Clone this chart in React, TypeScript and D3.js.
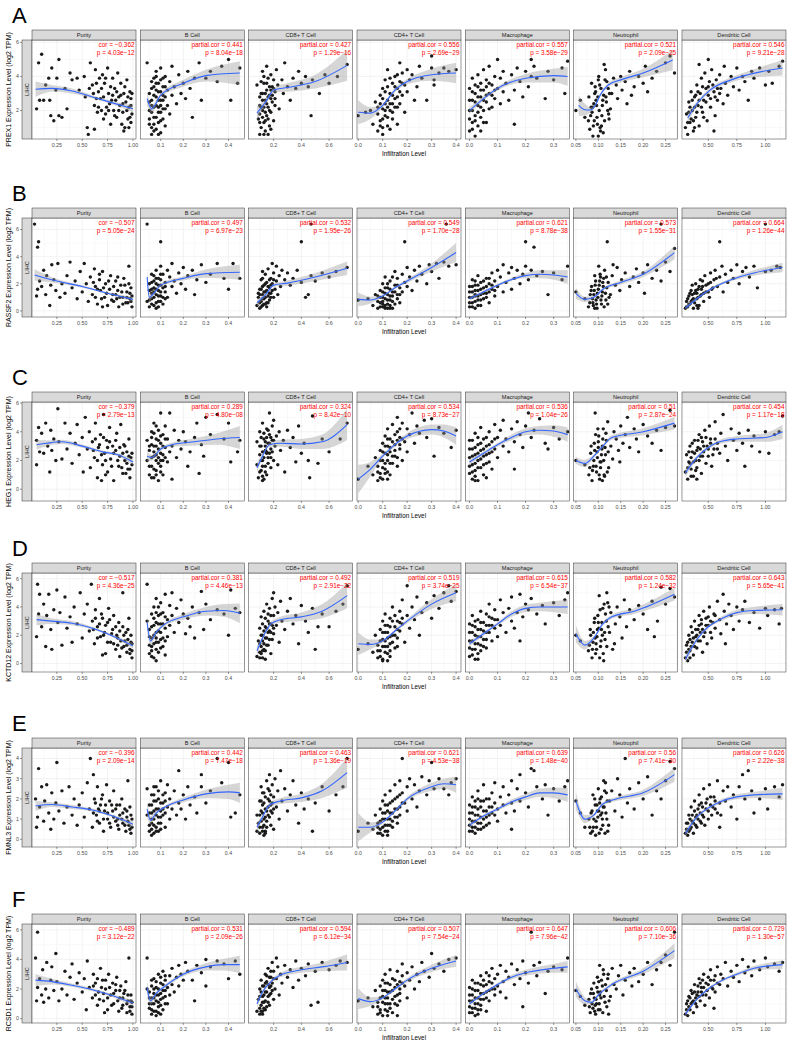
import * as d3 from 'd3';

// facet columns (x = infiltration level of each cell type)
const cells = ['Purity', 'B Cell', 'CD8+ T Cell', 'CD4+ T Cell', 'Macrophage', 'Neutrophil', 'Dendritic Cell'];
const xDomains = [[0.005, 1.03], [0.01, 0.47], [0.02, 0.77], [-0.005, 0.42], [-0.015, 0.356], [0.045, 0.277], [0.27, 1.18]];
const xTicks = [[0.25, 0.5, 0.75, 1], [0.1, 0.2, 0.3, 0.4], [0.2, 0.4, 0.6], [0, 0.1, 0.2, 0.3, 0.4], [0, 0.1, 0.2, 0.3], [0.05, 0.1, 0.15, 0.2, 0.25], [0.5, 0.75, 1]];
const xDigits = [2, 1, 1, 1, 1, 2, 2];

// facet rows (y = gene expression)
const letters = ['A', 'B', 'C', 'D', 'E', 'F'];
const genes = ['PREX1', 'RASSF2', 'HEG1', 'KCTD12', 'FMNL3', 'RCSD1'];
const yDomains = [[0.33, 6.14], [-0.45, 6.85], [-0.82, 6.07], [-0.6, 6.4], [-0.38, 4.52], [-0.3, 6.4]];
const yTicks = [[2, 4, 6], [0, 2, 4, 6], [0, 2, 4, 6], [0, 2, 4, 6], [0, 1, 2, 3, 4], [0, 2, 4, 6]];
const rowTops = [30, 208, 392, 563, 738, 914];

const corPREX1 = ['-0.362', '0.441', '0.427', '0.556', '0.557', '0.521', '0.546'];
const pPREX1 = ['4.03e-12', '8.04e-18', '1.29e-16', '2.69e-29', '3.58e-29', '2.09e-25', '9.21e-28'];
const corRASSF2 = ['-0.507', '0.497', '0.532', '0.549', '0.621', '0.573', '0.664'];
const pRASSF2 = ['5.05e-24', '6.97e-23', '1.95e-26', '1.70e-28', '8.78e-38', '1.55e-31', '1.26e-44'];
const corHEG1 = ['-0.379', '0.289', '0.324', '0.534', '0.536', '0.51', '0.454'];
const pHEG1 = ['2.79e-13', '4.80e-08', '8.42e-10', '8.73e-27', '1.04e-26', '2.87e-24', '1.17e-18'];
const corKCTD12 = ['-0.517', '0.381', '0.492', '0.519', '0.615', '0.582', '0.643'];
const pKCTD12 = ['4.36e-25', '4.46e-13', '2.91e-22', '3.74e-25', '6.54e-37', '1.24e-32', '5.65e-41'];
const corFMNL3 = ['-0.396', '0.442', '0.463', '0.621', '0.639', '0.56', '0.626'];
const pFMNL3 = ['2.09e-14', '7.47e-18', '1.36e-19', '4.53e-38', '1.48e-40', '7.41e-30', '2.22e-38'];
const corRCSD1 = ['-0.489', '0.531', '0.594', '0.507', '0.647', '0.606', '0.729'];
const pRCSD1 = ['3.12e-22', '2.09e-26', '6.12e-34', '7.54e-24', '7.96e-42', '7.10e-36', '1.30e-57'];

// scatter points, "x y" pairs per panel (spread of the cloud)
const ptsPREX1 = [
  '0.05 2.1, 0.07 4.8, 0.1 5.3, 0.08 2.6, 0.12 2.6, 0.14 3.5, 0.17 3.9, 0.18 2.6, 0.19 1.7, 0.2 4.5, 0.22 1.4, 0.24 3.2, 0.25 3.9, 0.27 5.0, 0.27 1.7, 0.3 1.6, 0.33 3.3, 0.35 2.1, 0.38 4.2, 0.4 3.8, 0.45 3.9, 0.47 3.2, 0.52 4.0, 0.53 2.8, 0.55 1.0, 0.56 0.6, 0.58 4.8, 0.6 3.5, 0.62 2.3, 0.63 4.4, 0.65 1.9, 0.66 3.1, 0.68 2.7, 0.7 4.1, 0.71 1.5, 0.72 3.6, 0.74 2.2, 0.75 4.5, 0.76 3.0, 0.78 1.2, 0.79 2.6, 0.8 3.9, 0.81 2.0, 0.82 3.3, 0.84 1.6, 0.85 4.2, 0.86 2.8, 0.87 2.3, 0.88 3.6, 0.9 1.9, 0.91 3.0, 0.92 1.0, 0.93 2.5, 0.94 3.8, 0.95 1.5, 0.96 2.2, 0.97 3.1, 0.98 1.3, 0.98 2.7, 0.99 1.8, 0.62 0.9, 0.69 2.0, 0.73 1.8, 0.77 2.4, 0.83 2.6, 0.89 1.2, 0.57 3.3, 0.64 2.7, 0.67 3.9',
  '0.04 4.8, 0.05 2.0, 0.05 1.2, 0.06 3.3, 0.06 0.6, 0.06 2.6, 0.07 3.9, 0.07 1.6, 0.07 2.9, 0.08 0.9, 0.08 2.3, 0.08 3.6, 0.08 4.3, 0.09 1.9, 0.09 3.1, 0.09 1.3, 0.1 2.6, 0.1 3.8, 0.1 0.7, 0.1 4.5, 0.11 2.1, 0.11 3.4, 0.11 1.5, 0.12 2.8, 0.12 4.0, 0.12 1.1, 0.13 3.2, 0.13 2.3, 0.14 3.7, 0.14 1.8, 0.15 2.9, 0.15 4.6, 0.16 3.4, 0.17 2.4, 0.18 4.1, 0.19 3.0, 0.2 3.6, 0.21 2.7, 0.22 4.3, 0.23 3.3, 0.24 1.6, 0.25 3.9, 0.27 4.8, 0.28 2.6, 0.3 3.9, 0.32 4.3, 0.35 3.7, 0.37 4.6, 0.4 5.0, 0.41 2.6, 0.44 3.6, 0.45 4.5, 0.06 1.0, 0.07 2.2, 0.09 2.6, 0.11 2.9, 0.05 3.0, 0.1 1.9',
  '0.08 3.5, 0.09 1.5, 0.1 0.6, 0.1 2.3, 0.11 3.0, 0.11 1.0, 0.12 4.3, 0.12 2.0, 0.13 1.3, 0.13 3.6, 0.14 2.6, 0.14 0.8, 0.15 4.6, 0.15 1.7, 0.15 3.2, 0.16 2.2, 0.16 3.9, 0.17 1.1, 0.17 2.9, 0.18 4.1, 0.18 1.9, 0.19 3.4, 0.19 2.5, 0.2 3.8, 0.2 1.4, 0.21 3.1, 0.21 2.7, 0.22 4.4, 0.23 3.5, 0.24 2.1, 0.26 3.8, 0.27 3.0, 0.28 4.8, 0.3 3.4, 0.32 2.6, 0.34 3.9, 0.36 3.3, 0.38 4.3, 0.4 3.6, 0.43 4.0, 0.45 3.4, 0.47 1.7, 0.48 3.8, 0.53 3.0, 0.57 4.1, 0.6 3.6, 0.66 4.0, 0.73 4.7, 0.12 3.0, 0.14 1.9, 0.16 0.6, 0.18 2.7, 0.1 1.8',
  '0.0 1.7, 0.03 1.9, 0.05 2.0, 0.06 1.2, 0.07 2.5, 0.08 0.8, 0.08 1.8, 0.09 2.9, 0.09 1.4, 0.1 3.3, 0.1 2.1, 0.1 0.6, 0.11 1.7, 0.11 3.8, 0.12 2.6, 0.12 1.1, 0.12 4.4, 0.13 3.0, 0.13 2.0, 0.14 3.6, 0.14 1.5, 0.15 4.0, 0.15 2.7, 0.16 3.3, 0.16 2.2, 0.17 4.8, 0.17 3.7, 0.18 2.9, 0.18 4.2, 0.19 3.5, 0.19 1.9, 0.2 4.4, 0.2 3.1, 0.21 3.8, 0.22 4.1, 0.23 2.6, 0.24 3.4, 0.25 4.6, 0.26 3.9, 0.28 2.6, 0.3 4.5, 0.3 5.2, 0.31 3.5, 0.31 3.8, 0.33 4.2, 0.35 4.5, 0.37 4.3, 0.4 4.4, 0.13 0.9, 0.16 1.2, 0.11 2.4, 0.14 2.4',
  '0.0 0.8, 0.0 2.0, 0.0 3.3, 0.01 1.3, 0.01 2.6, 0.01 3.9, 0.02 0.5, 0.02 1.7, 0.02 3.0, 0.03 2.3, 0.03 4.1, 0.03 1.1, 0.04 2.8, 0.04 3.6, 0.04 1.6, 0.05 2.0, 0.05 3.2, 0.05 4.4, 0.06 2.5, 0.06 3.8, 0.06 1.3, 0.07 3.0, 0.07 4.6, 0.08 2.2, 0.08 3.5, 0.09 4.0, 0.09 2.7, 0.1 3.3, 0.1 5.0, 0.11 2.4, 0.11 3.9, 0.12 3.1, 0.12 4.3, 0.13 3.6, 0.14 2.6, 0.15 4.1, 0.16 3.2, 0.16 1.2, 0.17 4.5, 0.18 3.7, 0.19 2.8, 0.2 4.3, 0.21 3.4, 0.22 4.0, 0.23 4.6, 0.24 3.9, 0.27 2.7, 0.28 4.3, 0.3 3.8, 0.33 4.5, 0.34 3.0, 0.35 4.9, 0.22 5.0',
  '0.05 2.0, 0.06 2.6, 0.07 1.6, 0.081 0.9, 0.084 2.2, 0.078 1.4, 0.092 3.0, 0.088 0.5, 0.086 1.9, 0.095 2.6, 0.098 1.2, 0.103 3.5, 0.096 2.3, 0.105 0.8, 0.101 4.0, 0.108 1.7, 0.112 2.9, 0.115 3.8, 0.107 1.1, 0.118 2.5, 0.122 3.3, 0.116 4.4, 0.124 1.5, 0.13 3.0, 0.127 2.1, 0.134 3.9, 0.14 3.5, 0.143 2.7, 0.15 4.0, 0.153 3.2, 0.16 3.7, 0.164 2.4, 0.17 4.3, 0.18 3.4, 0.19 4.0, 0.2 3.6, 0.205 4.6, 0.21 3.1, 0.22 3.9, 0.23 4.3, 0.25 4.8, 0.27 4.2, 0.26 5.2, 0.113 4.7, 0.091 1.4, 0.099 2.8, 0.121 2.0, 0.174 2.9',
  '0.3 1.0, 0.31 1.8, 0.32 0.6, 0.33 2.5, 0.34 1.3, 0.35 3.1, 0.36 2.0, 0.37 0.8, 0.38 2.8, 0.39 1.6, 0.4 3.5, 0.41 2.3, 0.42 1.1, 0.43 3.0, 0.44 3.9, 0.45 1.9, 0.46 2.6, 0.47 4.2, 0.48 3.3, 0.49 1.4, 0.5 2.9, 0.51 3.7, 0.52 2.2, 0.53 4.4, 0.55 3.1, 0.56 1.7, 0.57 3.8, 0.58 2.6, 0.6 4.1, 0.61 3.3, 0.63 2.4, 0.64 4.6, 0.65 3.6, 0.67 2.9, 0.7 4.0, 0.72 3.4, 0.75 4.5, 0.77 3.2, 0.8 4.0, 0.82 3.7, 0.85 2.6, 0.88 4.3, 0.9 3.9, 0.95 4.5, 1.0 3.5, 1.03 4.3, 1.06 3.6, 1.12 4.6, 1.15 4.9, 0.42 4.7, 0.5 5.0, 0.55 0.8',
];
const ptsRASSF2 = [
  '0.03 6.4, 0.07 5.1, 0.06 4.7, 0.05 1.1, 0.06 1.6, 0.08 2.2, 0.1 1.8, 0.12 3.0, 0.14 1.2, 0.15 2.6, 0.18 0.4, 0.19 1.9, 0.2 3.4, 0.22 2.3, 0.24 1.5, 0.26 3.5, 0.28 1.0, 0.3 2.0, 0.33 1.3, 0.35 2.6, 0.38 3.6, 0.4 1.7, 0.43 2.2, 0.45 0.9, 0.48 2.9, 0.5 1.4, 0.52 3.5, 0.54 2.0, 0.56 0.7, 0.58 2.5, 0.6 1.2, 0.62 3.1, 0.63 1.8, 0.65 0.5, 0.67 2.3, 0.68 1.5, 0.7 2.9, 0.72 1.0, 0.73 2.0, 0.75 0.4, 0.77 1.6, 0.78 2.6, 0.8 1.2, 0.81 0.7, 0.83 2.2, 0.85 1.5, 0.86 0.3, 0.88 1.9, 0.9 1.0, 0.91 2.4, 0.93 0.6, 0.94 1.4, 0.96 3.3, 0.97 0.9, 0.98 1.7, 0.99 0.3, 0.7 0.3, 0.84 0.9',
  '0.04 6.4, 0.1 5.1, 0.04 0.7, 0.05 1.5, 0.05 0.3, 0.06 2.1, 0.06 0.9, 0.07 1.7, 0.07 0.4, 0.07 2.6, 0.08 1.2, 0.08 2.0, 0.08 3.0, 0.09 0.7, 0.09 1.5, 0.09 2.4, 0.1 1.1, 0.1 3.3, 0.1 1.9, 0.11 0.5, 0.11 2.7, 0.12 1.4, 0.12 2.1, 0.13 3.0, 0.13 1.0, 0.14 2.5, 0.15 1.8, 0.15 3.5, 0.16 2.2, 0.17 1.3, 0.18 2.8, 0.19 2.0, 0.2 3.2, 0.21 1.6, 0.22 2.6, 0.24 3.0, 0.25 1.2, 0.26 2.3, 0.28 3.4, 0.3 2.1, 0.32 2.7, 0.35 3.5, 0.38 2.4, 0.4 1.6, 0.42 3.5, 0.45 2.4, 0.06 1.3, 0.08 0.2',
  '0.47 6.4, 0.4 5.1, 0.08 0.4, 0.09 1.0, 0.1 0.2, 0.1 1.6, 0.11 0.7, 0.11 2.3, 0.12 1.2, 0.12 0.4, 0.13 1.9, 0.13 0.9, 0.14 2.7, 0.14 1.4, 0.15 0.6, 0.15 2.1, 0.16 1.1, 0.16 3.1, 0.17 1.7, 0.17 0.8, 0.18 2.4, 0.18 1.3, 0.19 3.5, 0.19 2.0, 0.2 1.0, 0.2 2.8, 0.21 1.6, 0.22 3.3, 0.22 2.2, 0.23 1.2, 0.24 2.6, 0.25 1.8, 0.26 3.0, 0.28 2.3, 0.3 2.8, 0.32 1.9, 0.34 2.4, 0.37 3.0, 0.4 2.1, 0.43 1.0, 0.45 1.2, 0.47 2.6, 0.5 2.2, 0.55 2.8, 0.6 2.5, 0.65 2.9, 0.73 3.2, 0.12 2.9, 0.09 1.3',
  '0.36 6.4, 0.19 5.1, 0.0 0.8, 0.04 0.9, 0.06 0.4, 0.07 1.2, 0.08 0.2, 0.08 0.7, 0.09 1.5, 0.09 0.3, 0.1 1.0, 0.1 2.0, 0.1 0.5, 0.11 1.3, 0.11 0.2, 0.11 2.5, 0.12 0.8, 0.12 1.7, 0.13 1.1, 0.13 0.4, 0.13 2.2, 0.14 1.4, 0.14 0.7, 0.15 1.9, 0.15 2.9, 0.16 1.2, 0.16 2.4, 0.17 0.6, 0.17 1.7, 0.18 2.7, 0.18 1.4, 0.19 2.1, 0.2 3.2, 0.2 1.8, 0.21 2.5, 0.22 1.5, 0.23 3.0, 0.24 2.2, 0.25 3.3, 0.26 2.7, 0.28 2.0, 0.29 3.4, 0.3 2.9, 0.32 3.5, 0.33 2.4, 0.35 3.6, 0.37 3.3, 0.4 3.4, 0.12 0.2, 0.14 0.2',
  '0.2 5.1, 0.23 4.7, 0.0 0.3, 0.0 1.0, 0.0 1.8, 0.01 0.6, 0.01 1.4, 0.01 2.3, 0.02 0.2, 0.02 1.1, 0.02 1.9, 0.03 0.8, 0.03 1.5, 0.03 2.6, 0.04 0.4, 0.04 1.2, 0.04 2.1, 0.05 1.7, 0.05 0.9, 0.06 2.4, 0.06 1.3, 0.07 2.0, 0.07 0.6, 0.08 1.6, 0.08 2.8, 0.09 1.1, 0.09 2.2, 0.1 1.8, 0.1 3.0, 0.11 2.5, 0.12 1.4, 0.12 3.4, 0.13 2.1, 0.14 2.8, 0.15 1.6, 0.15 3.2, 0.16 2.4, 0.17 3.0, 0.18 2.0, 0.19 2.7, 0.2 3.3, 0.21 2.3, 0.22 3.0, 0.24 2.6, 0.26 2.9, 0.28 1.2, 0.3 2.8, 0.33 2.3, 0.35 3.3',
  '0.24 6.4, 0.12 5.1, 0.05 1.4, 0.07 0.9, 0.078 0.3, 0.082 1.2, 0.085 1.8, 0.088 0.6, 0.091 1.5, 0.094 2.2, 0.097 0.2, 0.099 1.0, 0.102 1.9, 0.104 2.7, 0.107 0.5, 0.109 1.4, 0.112 2.4, 0.114 3.0, 0.117 0.8, 0.119 1.7, 0.122 2.1, 0.127 1.2, 0.131 2.6, 0.138 1.9, 0.142 3.2, 0.148 1.5, 0.152 2.3, 0.16 2.8, 0.17 1.8, 0.178 2.5, 0.185 3.1, 0.19 2.1, 0.2 2.8, 0.203 1.3, 0.21 3.4, 0.22 2.4, 0.23 3.0, 0.24 2.2, 0.25 3.6, 0.26 2.9, 0.27 4.6, 0.133 3.4, 0.101 3.3, 0.092 0.2',
  '1.0 6.4, 0.6 5.1, 0.3 0.2, 0.31 0.7, 0.32 0.3, 0.33 1.1, 0.34 0.5, 0.35 1.5, 0.36 0.8, 0.37 0.2, 0.38 1.3, 0.39 2.0, 0.4 0.9, 0.41 1.6, 0.42 0.4, 0.43 2.3, 0.44 1.2, 0.45 1.8, 0.46 0.7, 0.47 2.6, 0.48 1.4, 0.5 2.0, 0.51 1.0, 0.52 2.8, 0.53 1.6, 0.55 2.3, 0.56 3.0, 0.58 1.8, 0.6 2.5, 0.62 3.3, 0.63 1.4, 0.65 2.7, 0.67 2.1, 0.7 3.0, 0.72 2.4, 0.75 3.4, 0.77 2.0, 0.8 2.9, 0.83 3.2, 0.86 2.5, 0.9 3.3, 0.93 1.7, 1.0 2.9, 1.05 3.0, 1.1 3.3, 1.13 3.2, 0.36 1.9, 0.41 0.2',
];
const ptsHEG1 = [
  '0.05 1.7, 0.05 3.4, 0.07 4.3, 0.08 2.6, 0.1 3.9, 0.12 2.5, 0.14 4.6, 0.16 3.0, 0.18 1.2, 0.19 4.1, 0.2 2.7, 0.22 3.5, 0.24 2.0, 0.26 5.6, 0.27 3.3, 0.3 2.1, 0.33 4.6, 0.35 2.8, 0.38 3.9, 0.4 1.8, 0.43 3.2, 0.45 4.5, 0.47 2.4, 0.5 3.6, 0.51 1.2, 0.53 5.0, 0.55 2.8, 0.57 4.0, 0.58 1.5, 0.6 3.3, 0.62 2.2, 0.63 4.6, 0.65 0.8, 0.66 2.9, 0.68 3.8, 0.7 1.7, 0.71 5.2, 0.72 2.5, 0.74 3.4, 0.75 1.2, 0.77 4.3, 0.78 2.1, 0.8 3.0, 0.81 0.6, 0.83 2.7, 0.84 3.9, 0.86 1.6, 0.87 2.3, 0.88 4.5, 0.9 1.1, 0.91 3.1, 0.92 2.0, 0.94 2.6, 0.95 1.4, 0.96 3.5, 0.97 0.8, 0.98 2.2, 0.99 1.7, 0.69 0.6, 0.73 1.0',
  '0.04 3.4, 0.04 2.0, 0.05 1.0, 0.05 2.7, 0.06 4.0, 0.06 1.6, 0.06 3.1, 0.07 0.8, 0.07 2.3, 0.07 4.6, 0.08 1.3, 0.08 3.5, 0.08 2.0, 0.09 0.6, 0.09 2.8, 0.09 4.1, 0.1 1.6, 0.1 3.2, 0.1 5.3, 0.11 2.4, 0.11 3.8, 0.11 1.0, 0.12 2.9, 0.12 4.4, 0.13 1.9, 0.13 3.5, 0.14 2.6, 0.14 5.3, 0.15 3.0, 0.15 0.7, 0.16 4.1, 0.17 2.2, 0.18 3.4, 0.19 2.8, 0.2 4.0, 0.21 3.3, 0.22 1.6, 0.23 2.6, 0.25 3.6, 0.26 4.6, 0.27 1.1, 0.28 3.1, 0.29 2.3, 0.3 5.0, 0.32 3.8, 0.35 5.2, 0.38 3.5, 0.4 4.6, 0.41 1.9, 0.44 2.6, 0.45 3.4, 0.1 2.0, 0.07 3.0',
  '0.08 1.7, 0.08 3.3, 0.09 0.8, 0.1 2.4, 0.1 4.0, 0.11 1.3, 0.11 3.0, 0.12 2.0, 0.12 4.6, 0.13 0.7, 0.13 3.5, 0.14 1.6, 0.14 2.7, 0.15 4.2, 0.15 1.0, 0.16 3.2, 0.16 2.2, 0.17 5.3, 0.17 3.8, 0.18 1.5, 0.18 2.8, 0.19 4.4, 0.19 3.4, 0.2 2.0, 0.2 4.8, 0.21 3.0, 0.22 3.7, 0.23 1.7, 0.24 4.0, 0.25 2.7, 0.27 3.4, 0.28 1.2, 0.3 4.1, 0.32 2.9, 0.34 3.6, 0.36 1.9, 0.38 4.4, 0.4 2.5, 0.42 3.2, 0.45 2.0, 0.46 0.8, 0.48 5.1, 0.52 1.8, 0.55 3.5, 0.6 2.6, 0.68 3.5, 0.73 4.6, 0.12 0.6, 0.15 2.5',
  '0.0 0.7, 0.04 1.6, 0.06 1.0, 0.07 2.2, 0.08 0.6, 0.08 1.6, 0.09 2.7, 0.09 1.1, 0.1 3.2, 0.1 2.0, 0.1 0.7, 0.11 2.5, 0.11 3.7, 0.11 1.4, 0.12 3.0, 0.12 2.0, 0.12 4.2, 0.13 1.0, 0.13 2.6, 0.13 3.5, 0.14 4.5, 0.14 1.8, 0.15 3.1, 0.15 2.3, 0.16 4.0, 0.16 5.0, 0.17 2.8, 0.17 3.6, 0.18 4.6, 0.18 2.0, 0.19 3.3, 0.2 4.2, 0.2 2.6, 0.21 3.8, 0.22 5.3, 0.23 3.2, 0.24 4.4, 0.25 3.9, 0.27 4.8, 0.28 3.6, 0.3 4.9, 0.31 2.3, 0.33 4.3, 0.35 3.9, 0.38 2.9, 0.4 4.1, 0.12 0.7, 0.16 1.6',
  '0.0 1.1, 0.0 2.2, 0.0 3.4, 0.01 0.7, 0.01 1.7, 0.01 2.8, 0.02 1.3, 0.02 2.4, 0.02 3.9, 0.03 0.6, 0.03 2.0, 0.03 3.1, 0.04 1.5, 0.04 2.7, 0.04 4.3, 0.05 1.0, 0.05 2.3, 0.05 3.5, 0.06 1.8, 0.06 3.0, 0.07 2.5, 0.07 4.0, 0.08 1.4, 0.08 3.3, 0.09 2.8, 0.09 4.5, 0.1 3.6, 0.1 2.2, 0.11 4.1, 0.12 3.0, 0.12 4.8, 0.13 3.5, 0.14 2.6, 0.15 4.2, 0.16 3.3, 0.17 4.7, 0.18 3.8, 0.19 2.9, 0.2 4.4, 0.21 5.3, 0.22 3.6, 0.23 4.1, 0.25 4.9, 0.27 3.2, 0.28 2.8, 0.3 4.3, 0.32 3.5, 0.35 4.0, 0.16 1.4, 0.06 0.8',
  '0.05 2.0, 0.07 1.7, 0.079 1.0, 0.083 2.5, 0.086 0.6, 0.089 1.6, 0.091 3.2, 0.093 5.3, 0.096 1.2, 0.098 2.2, 0.101 3.7, 0.103 0.7, 0.106 1.9, 0.108 2.8, 0.111 4.2, 0.113 1.0, 0.116 2.4, 0.118 3.4, 0.121 4.7, 0.123 1.5, 0.128 3.0, 0.132 2.1, 0.135 4.0, 0.14 3.5, 0.145 2.7, 0.15 4.4, 0.155 3.2, 0.16 3.8, 0.165 5.0, 0.17 2.9, 0.18 4.2, 0.185 3.5, 0.19 2.6, 0.2 4.5, 0.21 3.7, 0.22 3.2, 0.23 4.1, 0.24 2.7, 0.25 4.3, 0.26 5.5, 0.27 4.4, 0.148 1.9, 0.1 2.9, 0.109 0.6',
  '0.3 1.2, 0.31 2.4, 0.32 0.7, 0.33 1.9, 0.34 3.0, 0.35 1.4, 0.36 2.6, 0.37 0.9, 0.38 3.4, 0.39 2.0, 0.4 1.5, 0.41 2.9, 0.42 3.8, 0.43 2.3, 0.44 1.1, 0.45 3.3, 0.46 2.6, 0.47 4.1, 0.48 1.8, 0.49 3.0, 0.5 2.3, 0.51 4.4, 0.52 3.5, 0.53 1.6, 0.55 2.8, 0.56 4.7, 0.58 3.2, 0.6 2.5, 0.61 3.9, 0.63 5.2, 0.65 3.0, 0.67 2.0, 0.7 4.2, 0.72 3.4, 0.75 2.7, 0.77 3.9, 0.8 3.2, 0.82 1.6, 0.85 4.1, 0.88 3.0, 0.9 3.7, 0.95 2.6, 1.0 4.0, 1.03 2.5, 1.08 3.8, 1.12 4.0, 1.15 5.1, 0.4 0.7',
];
const ptsKCTD12 = [
  '0.05 1.9, 0.06 5.6, 0.07 3.5, 0.08 4.9, 0.1 2.6, 0.12 4.2, 0.14 1.2, 0.15 3.4, 0.17 4.9, 0.19 2.4, 0.2 1.0, 0.22 3.8, 0.25 5.2, 0.26 2.9, 0.28 3.6, 0.3 1.3, 0.33 4.7, 0.35 2.5, 0.38 3.3, 0.4 1.5, 0.42 4.0, 0.45 2.8, 0.48 5.0, 0.5 1.8, 0.52 3.5, 0.55 4.2, 0.57 2.3, 0.59 5.6, 0.6 3.0, 0.62 1.4, 0.63 3.8, 0.65 2.6, 0.67 4.6, 0.68 1.9, 0.7 3.2, 0.72 2.2, 0.73 0.7, 0.75 2.9, 0.76 3.9, 0.78 1.5, 0.8 2.4, 0.81 3.4, 0.83 1.0, 0.84 2.0, 0.86 2.9, 0.87 0.5, 0.88 1.6, 0.9 2.6, 0.9 5.0, 0.91 1.2, 0.93 2.2, 0.94 0.8, 0.95 1.7, 0.96 3.2, 0.97 1.0, 0.98 2.0, 0.99 0.4, 0.99 1.4, 0.7 0.6, 0.85 1.3',
  '0.04 5.6, 0.04 3.0, 0.05 1.9, 0.05 0.7, 0.06 2.6, 0.06 1.2, 0.06 3.5, 0.07 0.4, 0.07 2.0, 0.07 4.0, 0.08 1.5, 0.08 2.9, 0.08 4.6, 0.09 0.8, 0.09 2.3, 0.09 3.4, 0.1 1.7, 0.1 2.8, 0.1 4.3, 0.11 1.2, 0.11 3.6, 0.12 2.5, 0.12 0.6, 0.12 4.9, 0.13 3.1, 0.13 1.9, 0.14 2.7, 0.14 4.1, 0.15 3.4, 0.15 5.0, 0.16 2.2, 0.17 3.9, 0.18 2.9, 0.19 4.5, 0.2 3.5, 0.21 2.1, 0.22 3.2, 0.23 2.6, 0.24 4.0, 0.25 1.8, 0.27 3.6, 0.28 5.1, 0.29 2.4, 0.3 4.2, 0.32 3.1, 0.35 3.8, 0.38 3.5, 0.4 2.0, 0.41 5.2, 0.43 3.9, 0.45 3.6, 0.08 0.2',
  '0.08 0.5, 0.09 1.6, 0.1 0.8, 0.1 2.5, 0.11 1.2, 0.11 3.3, 0.12 0.4, 0.12 2.0, 0.13 1.4, 0.13 3.7, 0.14 2.6, 0.14 0.9, 0.15 1.8, 0.15 4.2, 0.16 3.0, 0.16 1.3, 0.17 2.3, 0.17 3.9, 0.18 0.7, 0.18 2.8, 0.19 1.7, 0.19 4.6, 0.2 3.4, 0.2 2.1, 0.21 4.0, 0.22 2.7, 0.23 3.6, 0.24 1.5, 0.25 4.4, 0.26 3.0, 0.28 2.4, 0.3 3.7, 0.32 4.6, 0.34 2.8, 0.36 3.4, 0.38 1.4, 0.4 4.1, 0.43 3.0, 0.45 2.2, 0.48 3.9, 0.5 1.0, 0.52 2.6, 0.55 3.5, 0.6 2.6, 0.65 3.7, 0.73 5.5, 0.7 4.2, 0.2 5.0',
  '0.0 1.0, 0.04 1.4, 0.06 0.8, 0.07 2.0, 0.08 0.4, 0.08 1.3, 0.09 2.4, 0.09 0.9, 0.1 1.7, 0.1 3.0, 0.1 0.3, 0.11 1.2, 0.11 2.2, 0.11 3.5, 0.12 0.7, 0.12 1.8, 0.12 2.7, 0.13 1.4, 0.13 3.2, 0.13 0.5, 0.14 2.0, 0.14 4.0, 0.15 2.6, 0.15 1.1, 0.16 3.0, 0.16 1.8, 0.17 3.7, 0.17 2.3, 0.18 4.5, 0.18 2.8, 0.19 1.5, 0.2 3.4, 0.2 5.5, 0.21 2.5, 0.22 4.0, 0.23 3.1, 0.24 4.7, 0.25 2.0, 0.26 3.6, 0.28 4.3, 0.3 3.2, 0.31 4.8, 0.33 3.9, 0.35 5.0, 0.37 5.5, 0.38 4.4, 0.4 5.1, 0.12 0.2',
  '0.0 0.5, 0.0 1.6, 0.0 2.8, 0.01 1.0, 0.01 2.2, 0.01 3.4, 0.02 0.3, 0.02 1.4, 0.02 2.6, 0.03 1.9, 0.03 3.1, 0.03 0.7, 0.04 1.3, 0.04 2.4, 0.04 3.7, 0.05 1.7, 0.05 2.9, 0.06 1.1, 0.06 2.2, 0.06 3.5, 0.07 2.7, 0.07 4.2, 0.08 1.6, 0.08 3.2, 0.09 2.5, 0.09 3.8, 0.1 1.9, 0.1 3.1, 0.11 4.5, 0.11 2.7, 0.12 3.6, 0.13 2.2, 0.14 3.9, 0.15 3.0, 0.15 4.7, 0.16 2.5, 0.17 3.6, 0.18 4.9, 0.19 3.3, 0.2 4.2, 0.21 3.8, 0.22 4.6, 0.24 3.5, 0.26 4.1, 0.27 2.8, 0.3 4.3, 0.32 3.4, 0.34 4.5, 0.35 5.0, 0.18 1.6',
  '0.05 2.0, 0.06 1.6, 0.078 0.9, 0.082 2.4, 0.086 0.4, 0.088 1.5, 0.091 2.9, 0.094 0.7, 0.097 1.9, 0.099 3.4, 0.102 4.8, 0.105 1.2, 0.107 2.4, 0.11 3.9, 0.112 0.2, 0.115 1.7, 0.118 3.0, 0.121 4.3, 0.125 2.2, 0.128 3.6, 0.132 1.0, 0.138 2.8, 0.142 4.0, 0.148 3.3, 0.153 1.8, 0.158 4.5, 0.163 2.6, 0.17 3.8, 0.18 3.1, 0.19 4.1, 0.2 3.5, 0.21 2.4, 0.22 4.4, 0.225 1.9, 0.232 3.0, 0.24 5.4, 0.25 4.2, 0.26 5.3, 0.27 4.7, 0.119 5.0, 0.101 2.5, 0.136 1.4',
  '0.3 0.4, 0.31 1.3, 0.32 0.2, 0.33 2.0, 0.34 0.9, 0.35 2.6, 0.36 1.5, 0.37 0.6, 0.38 3.0, 0.39 1.9, 0.4 1.1, 0.41 2.4, 0.42 3.4, 0.43 1.6, 0.44 2.8, 0.45 0.8, 0.46 3.7, 0.47 2.2, 0.48 3.2, 0.49 1.4, 0.5 2.7, 0.51 4.0, 0.52 3.0, 0.53 1.8, 0.55 3.5, 0.56 2.5, 0.58 4.4, 0.6 3.1, 0.61 2.1, 0.63 4.9, 0.64 3.7, 0.66 2.8, 0.68 4.2, 0.7 3.4, 0.72 2.4, 0.75 4.0, 0.77 3.0, 0.8 3.8, 0.82 4.4, 0.86 2.9, 0.9 3.6, 0.95 2.5, 1.0 3.9, 1.02 3.4, 1.08 3.8, 1.12 2.8, 1.14 3.9, 0.65 1.4',
];
const ptsFMNL3 = [
  '0.04 2.0, 0.05 0.6, 0.06 1.1, 0.07 3.5, 0.08 1.6, 0.1 2.6, 0.12 0.9, 0.13 1.9, 0.15 2.7, 0.17 1.3, 0.19 0.5, 0.2 2.3, 0.22 1.0, 0.24 1.8, 0.25 3.8, 0.27 1.4, 0.3 2.4, 0.32 0.8, 0.35 1.6, 0.37 2.6, 0.4 1.2, 0.42 2.0, 0.45 0.7, 0.47 1.7, 0.5 2.3, 0.52 1.1, 0.55 2.8, 0.57 1.5, 0.58 4.0, 0.6 0.6, 0.61 3.2, 0.62 2.0, 0.64 1.2, 0.65 2.6, 0.67 0.8, 0.68 1.7, 0.7 2.2, 0.71 0.4, 0.72 1.4, 0.74 2.7, 0.75 1.0, 0.77 1.9, 0.78 0.6, 0.8 1.4, 0.81 2.4, 0.83 0.9, 0.84 1.7, 0.86 0.5, 0.87 1.2, 0.89 2.0, 0.9 0.8, 0.92 1.5, 0.93 0.4, 0.94 1.1, 0.95 2.9, 0.96 0.7, 0.97 1.6, 0.98 0.3, 0.99 1.0, 0.66 1.5, 0.85 1.0',
  '0.04 2.5, 0.04 1.2, 0.05 0.4, 0.05 1.7, 0.06 0.8, 0.06 2.2, 0.06 1.3, 0.07 0.3, 0.07 1.0, 0.07 1.9, 0.08 0.6, 0.08 1.5, 0.08 2.6, 0.09 1.1, 0.09 0.4, 0.09 2.0, 0.1 1.4, 0.1 2.9, 0.1 0.8, 0.11 1.8, 0.11 1.2, 0.12 2.3, 0.12 0.6, 0.13 1.6, 0.13 2.7, 0.14 1.0, 0.14 2.0, 0.15 1.5, 0.16 2.4, 0.17 1.2, 0.18 1.8, 0.18 3.4, 0.19 1.5, 0.2 2.2, 0.21 1.0, 0.22 2.6, 0.23 1.7, 0.25 2.1, 0.26 1.3, 0.28 3.2, 0.28 2.6, 0.3 1.8, 0.32 2.4, 0.35 4.0, 0.37 2.8, 0.4 3.8, 0.41 1.1, 0.43 1.3, 0.45 2.2, 0.06 0.2',
  '0.08 0.4, 0.08 1.2, 0.09 0.8, 0.1 1.9, 0.1 0.3, 0.11 1.4, 0.11 2.6, 0.12 0.6, 0.12 1.7, 0.13 1.0, 0.13 2.3, 0.14 0.4, 0.14 1.5, 0.15 2.9, 0.15 0.9, 0.16 2.0, 0.16 1.2, 0.17 3.2, 0.17 2.4, 0.18 0.7, 0.18 1.7, 0.19 2.7, 0.19 1.3, 0.2 2.1, 0.2 0.5, 0.21 3.0, 0.22 1.6, 0.23 2.4, 0.24 1.0, 0.25 3.4, 0.26 1.9, 0.28 2.5, 0.3 1.4, 0.32 2.2, 0.34 2.9, 0.36 1.7, 0.38 0.8, 0.4 2.3, 0.42 1.5, 0.45 2.0, 0.48 0.4, 0.5 1.8, 0.55 2.6, 0.6 1.4, 0.65 2.2, 0.7 2.6, 0.73 4.0, 0.13 0.2',
  '0.0 0.4, 0.04 0.8, 0.06 0.5, 0.07 1.2, 0.08 0.3, 0.08 0.8, 0.09 1.5, 0.09 0.5, 0.1 1.0, 0.1 1.9, 0.1 0.2, 0.11 0.7, 0.11 1.3, 0.11 2.2, 0.12 0.4, 0.12 1.0, 0.12 1.7, 0.13 0.7, 0.13 2.4, 0.13 1.3, 0.14 1.9, 0.14 0.9, 0.15 1.5, 0.15 2.7, 0.16 1.1, 0.16 2.1, 0.17 1.6, 0.17 2.9, 0.18 4.0, 0.18 2.3, 0.19 1.8, 0.2 2.6, 0.2 1.4, 0.21 3.0, 0.22 2.0, 0.23 2.7, 0.24 1.6, 0.25 2.4, 0.26 3.1, 0.28 2.2, 0.29 2.9, 0.3 3.8, 0.31 2.5, 0.33 3.0, 0.35 2.5, 0.37 2.2, 0.38 2.8, 0.4 3.0',
  '0.0 0.4, 0.0 1.0, 0.0 1.7, 0.01 0.6, 0.01 1.3, 0.01 2.1, 0.02 0.3, 0.02 0.9, 0.02 1.6, 0.03 1.2, 0.03 2.4, 0.03 0.5, 0.04 0.8, 0.04 1.9, 0.05 1.4, 0.05 0.6, 0.05 2.7, 0.06 1.1, 0.06 2.0, 0.07 1.6, 0.07 0.8, 0.08 2.3, 0.08 1.3, 0.09 1.8, 0.09 2.8, 0.1 1.5, 0.1 0.9, 0.11 2.1, 0.12 1.7, 0.12 2.6, 0.13 1.3, 0.14 2.2, 0.15 1.8, 0.15 2.9, 0.16 1.4, 0.17 2.5, 0.18 3.2, 0.18 1.9, 0.2 2.3, 0.21 1.6, 0.22 3.5, 0.23 3.4, 0.24 2.6, 0.26 2.0, 0.27 2.7, 0.28 1.2, 0.3 2.5, 0.32 1.9, 0.34 2.6, 0.35 2.9, 0.15 0.5',
  '0.05 1.9, 0.06 1.3, 0.07 0.6, 0.079 1.0, 0.083 0.3, 0.086 1.4, 0.089 0.6, 0.092 2.0, 0.095 0.9, 0.097 1.7, 0.1 2.5, 0.102 0.3, 0.105 1.2, 0.107 2.1, 0.11 0.7, 0.113 1.6, 0.116 2.8, 0.119 1.0, 0.125 1.9, 0.13 2.4, 0.137 1.4, 0.143 3.0, 0.148 2.2, 0.153 1.1, 0.16 4.0, 0.165 1.8, 0.17 2.5, 0.18 1.5, 0.19 2.8, 0.2 2.0, 0.21 3.1, 0.22 1.2, 0.23 2.4, 0.24 2.0, 0.25 2.9, 0.26 3.85, 0.27 3.5, 0.121 0.4, 0.098 1.4, 0.112 2.9',
  '0.3 0.3, 0.31 0.8, 0.32 0.2, 0.33 1.2, 0.34 0.5, 0.35 1.6, 0.36 0.9, 0.37 0.3, 0.38 1.9, 0.39 1.1, 0.4 0.6, 0.41 1.5, 0.42 2.2, 0.43 0.9, 0.44 1.8, 0.45 1.2, 0.46 2.5, 0.47 0.7, 0.48 1.5, 0.49 2.0, 0.5 1.0, 0.51 2.7, 0.52 1.7, 0.53 1.2, 0.55 2.1, 0.56 1.5, 0.58 2.9, 0.6 1.8, 0.61 1.2, 0.63 2.4, 0.65 1.9, 0.67 2.6, 0.7 1.6, 0.72 2.2, 0.75 1.0, 0.77 2.6, 0.8 3.2, 0.82 2.0, 0.85 3.4, 0.88 2.4, 0.9 1.3, 0.95 2.0, 1.0 2.5, 1.02 1.5, 1.08 2.6, 1.12 2.1, 1.15 2.7, 0.6 0.6',
];
const ptsRCSD1 = [
  '0.04 4.1, 0.05 1.2, 0.06 5.85, 0.06 2.1, 0.08 2.7, 0.1 1.6, 0.11 3.3, 0.12 1.1, 0.14 2.0, 0.15 3.8, 0.17 1.4, 0.19 2.6, 0.2 3.5, 0.22 1.9, 0.24 4.4, 0.25 2.5, 0.27 1.2, 0.3 2.0, 0.33 3.2, 0.35 1.6, 0.38 2.8, 0.4 3.7, 0.42 1.3, 0.45 2.4, 0.47 3.1, 0.5 1.8, 0.52 2.7, 0.54 0.6, 0.55 3.9, 0.57 2.1, 0.6 1.4, 0.61 3.0, 0.63 2.4, 0.65 0.9, 0.66 1.8, 0.68 3.4, 0.7 2.6, 0.71 1.2, 0.73 2.0, 0.75 0.6, 0.76 3.0, 0.78 1.6, 0.8 2.4, 0.81 1.0, 0.83 1.9, 0.84 2.8, 0.86 0.5, 0.87 1.4, 0.88 2.2, 0.9 0.9, 0.91 1.7, 0.93 2.5, 0.94 0.4, 0.95 1.2, 0.96 4.1, 0.97 0.8, 0.98 1.6, 0.99 0.3, 0.99 1.1, 0.72 0.4',
  '0.04 4.1, 0.04 2.0, 0.05 0.7, 0.05 1.4, 0.06 0.3, 0.06 2.2, 0.06 1.0, 0.07 1.7, 0.07 0.5, 0.07 2.7, 0.08 1.2, 0.08 2.1, 0.08 0.2, 0.09 1.6, 0.09 0.8, 0.09 3.0, 0.1 1.3, 0.1 2.4, 0.11 0.6, 0.11 1.9, 0.11 3.2, 0.12 1.5, 0.12 2.6, 0.13 1.0, 0.13 2.1, 0.14 2.9, 0.14 1.6, 0.15 3.4, 0.15 2.3, 0.16 1.8, 0.17 2.8, 0.18 3.6, 0.18 2.2, 0.19 3.0, 0.2 2.6, 0.21 3.8, 0.22 3.2, 0.24 2.6, 0.25 1.2, 0.26 3.6, 0.28 3.1, 0.3 4.0, 0.3 2.2, 0.32 3.5, 0.35 3.9, 0.38 3.7, 0.4 2.7, 0.43 3.9, 0.45 3.0, 0.1 0.3',
  '0.08 0.5, 0.09 1.3, 0.1 0.3, 0.1 2.0, 0.11 0.9, 0.11 2.6, 0.12 1.5, 0.12 0.5, 0.13 2.2, 0.13 1.1, 0.14 3.0, 0.14 1.8, 0.15 0.8, 0.15 2.5, 0.16 1.5, 0.16 3.4, 0.17 2.1, 0.17 0.9, 0.18 2.8, 0.18 1.7, 0.19 3.8, 0.19 2.4, 0.2 1.3, 0.2 3.2, 0.21 2.0, 0.22 4.1, 0.22 2.7, 0.23 3.5, 0.24 1.6, 0.25 3.0, 0.26 2.4, 0.28 3.6, 0.3 2.8, 0.32 3.3, 0.34 2.1, 0.36 3.9, 0.38 2.6, 0.4 3.4, 0.43 2.9, 0.45 3.7, 0.47 0.9, 0.5 3.2, 0.52 1.1, 0.55 3.8, 0.6 3.3, 0.65 3.6, 0.68 3.9, 0.73 3.8',
  '0.0 1.2, 0.04 1.4, 0.06 0.8, 0.07 1.9, 0.08 0.3, 0.08 1.1, 0.09 2.2, 0.09 0.6, 0.1 1.5, 0.1 2.6, 0.1 0.2, 0.11 1.0, 0.11 1.9, 0.11 3.0, 0.12 0.5, 0.12 1.4, 0.12 2.4, 0.13 1.0, 0.13 3.3, 0.13 1.8, 0.14 0.4, 0.14 2.7, 0.15 1.5, 0.15 2.1, 0.16 3.2, 0.16 0.9, 0.17 2.5, 0.17 1.7, 0.18 2.9, 0.18 3.7, 0.19 2.2, 0.2 3.1, 0.2 1.4, 0.21 2.6, 0.22 3.5, 0.23 2.0, 0.24 3.0, 0.25 2.5, 0.26 3.8, 0.27 3.2, 0.29 2.8, 0.3 4.4, 0.31 3.4, 0.33 3.7, 0.35 3.2, 0.37 4.0, 0.4 4.1, 0.16 0.2',
  '0.0 0.4, 0.0 1.2, 0.0 2.1, 0.01 0.7, 0.01 1.6, 0.01 2.6, 0.02 0.2, 0.02 1.0, 0.02 1.9, 0.03 1.4, 0.03 2.4, 0.03 0.6, 0.04 1.7, 0.04 2.9, 0.04 0.9, 0.05 1.3, 0.05 2.2, 0.06 1.8, 0.06 3.1, 0.06 0.5, 0.07 2.5, 0.07 1.2, 0.08 2.0, 0.08 3.4, 0.09 1.6, 0.09 2.7, 0.1 2.2, 0.1 3.0, 0.11 1.8, 0.11 3.6, 0.12 2.5, 0.13 3.2, 0.13 1.4, 0.14 2.8, 0.15 3.7, 0.16 2.3, 0.17 3.3, 0.18 2.7, 0.19 3.9, 0.2 3.1, 0.21 2.4, 0.22 5.85, 0.23 3.6, 0.24 2.9, 0.25 3.8, 0.27 1.7, 0.28 3.2, 0.3 3.5, 0.33 3.3, 0.35 4.1, 0.19 0.8',
  '0.05 1.9, 0.06 1.5, 0.07 0.9, 0.079 1.3, 0.082 0.4, 0.085 2.0, 0.088 0.7, 0.091 1.4, 0.094 0.3, 0.096 1.0, 0.099 1.8, 0.101 2.5, 0.104 0.6, 0.106 1.4, 0.109 2.2, 0.112 3.0, 0.115 1.1, 0.118 1.9, 0.121 2.7, 0.127 1.5, 0.131 3.4, 0.135 2.3, 0.14 2.0, 0.145 2.9, 0.15 3.6, 0.155 1.6, 0.16 2.6, 0.17 3.1, 0.175 2.2, 0.18 3.4, 0.19 2.5, 0.2 3.0, 0.21 3.8, 0.22 2.3, 0.23 3.3, 0.24 3.8, 0.25 4.3, 0.26 3.6, 0.27 5.85, 0.103 3.6, 0.123 0.3',
  '0.3 0.3, 0.31 1.0, 0.32 0.2, 0.33 1.5, 0.34 0.6, 0.35 1.9, 0.36 1.1, 0.37 0.4, 0.38 2.3, 0.39 1.4, 0.4 0.8, 0.41 1.8, 0.42 2.7, 0.43 1.2, 0.44 2.1, 0.45 1.6, 0.46 3.0, 0.47 0.9, 0.48 2.4, 0.49 1.9, 0.5 2.8, 0.51 1.4, 0.52 3.3, 0.53 2.1, 0.55 2.6, 0.56 1.8, 0.58 3.5, 0.6 2.3, 0.61 3.0, 0.63 2.7, 0.65 3.8, 0.67 2.2, 0.7 3.2, 0.72 2.8, 0.75 3.6, 0.77 2.5, 0.8 4.0, 0.82 3.1, 0.85 3.5, 0.88 2.9, 0.9 3.9, 0.95 3.3, 1.0 4.1, 1.02 3.5, 1.08 3.7, 1.12 3.2, 1.15 3.8, 0.55 0.7',
];

// extra points in the dense core of each cloud
const corePREX1 = [
  '0.61 3.0, 0.64 3.6, 0.66 2.2, 0.69 3.3, 0.71 2.8, 0.73 3.9, 0.76 2.0, 0.78 3.4, 0.8 2.9, 0.82 1.7, 0.84 3.1, 0.86 2.0, 0.88 2.9, 0.9 2.4, 0.92 3.4, 0.94 2.0, 0.95 2.8, 0.97 1.6, 0.98 2.3, 0.99 3.0, 0.96 1.0, 0.91 0.8',
  '0.05 1.5, 0.05 2.5, 0.06 1.9, 0.06 3.7, 0.07 1.2, 0.07 3.4, 0.07 0.8, 0.08 2.8, 0.08 1.6, 0.08 3.2, 0.09 2.2, 0.09 3.6, 0.09 0.6, 0.1 2.3, 0.1 3.1, 0.1 1.4, 0.11 2.6, 0.11 3.9, 0.12 2.1, 0.12 3.4, 0.06 2.3, 0.08 4.0',
  '0.1 1.3, 0.1 2.8, 0.11 2.2, 0.11 3.7, 0.12 1.6, 0.12 2.6, 0.13 2.2, 0.13 4.0, 0.14 3.0, 0.14 1.4, 0.15 2.4, 0.15 3.6, 0.16 2.8, 0.16 1.5, 0.17 3.4, 0.17 2.0, 0.18 3.2, 0.18 0.9, 0.19 2.9, 0.2 3.3, 0.21 2.3, 0.13 0.6',
  '0.08 2.2, 0.09 1.1, 0.09 2.4, 0.1 1.5, 0.1 2.7, 0.11 2.0, 0.11 3.1, 0.12 1.6, 0.12 3.4, 0.13 2.4, 0.13 3.9, 0.14 2.9, 0.14 1.9, 0.15 3.4, 0.15 2.2, 0.16 4.1, 0.16 2.8, 0.17 3.1, 0.17 2.4, 0.18 3.6, 0.12 2.2, 0.1 1.0',
  '0.0 1.5, 0.0 2.6, 0.01 0.9, 0.01 2.0, 0.01 3.1, 0.02 1.4, 0.02 2.5, 0.02 3.5, 0.03 1.9, 0.03 2.8, 0.04 2.2, 0.04 3.2, 0.05 2.6, 0.05 1.3, 0.06 2.9, 0.06 3.4, 0.07 2.1, 0.07 3.6, 0.08 2.9, 0.09 3.2, 0.03 3.4, 0.04 0.8',
  '0.083 1.7, 0.079 2.8, 0.089 1.1, 0.087 2.2, 0.093 3.4, 0.097 1.6, 0.102 2.0, 0.094 3.1, 0.104 1.0, 0.109 2.3, 0.106 3.3, 0.111 0.7, 0.114 1.4, 0.117 2.8, 0.119 3.7, 0.123 1.8, 0.1 0.5, 0.09 2.4, 0.11 2.6, 0.125 3.0, 0.1 3.8, 0.085 3.6',
  '0.32 1.3, 0.33 1.9, 0.34 2.2, 0.35 1.5, 0.36 2.6, 0.37 1.4, 0.38 2.2, 0.39 2.9, 0.4 1.9, 0.41 3.1, 0.42 2.6, 0.44 2.2, 0.45 3.4, 0.46 1.6, 0.48 2.5, 0.5 3.4, 0.52 2.7, 0.54 3.5, 0.56 2.8, 0.58 3.3, 0.6 3.0, 0.38 1.0',
];
const coreRASSF2 = [
  '0.61 2.1, 0.63 1.0, 0.65 1.6, 0.67 2.7, 0.69 0.9, 0.71 1.7, 0.74 1.3, 0.76 2.2, 0.79 0.8, 0.81 1.8, 0.83 1.2, 0.85 2.5, 0.87 1.0, 0.89 1.4, 0.9 0.5, 0.92 1.9, 0.94 1.0, 0.95 0.6, 0.97 1.3, 0.98 0.7, 0.99 1.1, 0.96 2.0',
  '0.05 0.8, 0.05 2.0, 0.06 0.5, 0.06 1.6, 0.07 1.0, 0.07 2.2, 0.07 1.4, 0.08 0.6, 0.08 1.6, 0.08 2.4, 0.09 1.1, 0.09 1.9, 0.09 0.3, 0.1 1.4, 0.1 2.3, 0.1 0.7, 0.11 1.7, 0.11 1.0, 0.12 1.8, 0.12 0.9, 0.06 2.7, 0.1 2.7',
  '0.1 0.6, 0.1 1.2, 0.11 0.3, 0.11 1.6, 0.12 0.9, 0.12 1.8, 0.13 0.5, 0.13 1.4, 0.14 1.0, 0.14 2.0, 0.15 1.5, 0.15 0.3, 0.16 1.8, 0.16 0.6, 0.17 1.3, 0.17 2.3, 0.18 1.9, 0.18 1.0, 0.19 1.5, 0.2 2.3, 0.14 0.5, 0.12 2.4',
  '0.08 1.1, 0.09 0.6, 0.09 1.0, 0.1 0.7, 0.1 1.4, 0.1 0.3, 0.11 0.9, 0.11 1.7, 0.11 0.4, 0.12 1.2, 0.12 0.5, 0.12 2.0, 0.13 0.8, 0.13 1.6, 0.14 1.1, 0.14 2.5, 0.15 1.4, 0.15 0.5, 0.16 1.9, 0.16 0.9, 0.17 1.2, 0.13 0.2',
  '0.0 0.6, 0.0 1.4, 0.01 1.0, 0.01 1.8, 0.01 0.3, 0.02 0.7, 0.02 1.5, 0.02 2.2, 0.03 1.1, 0.03 1.9, 0.04 0.8, 0.04 1.6, 0.05 1.3, 0.05 2.2, 0.06 1.0, 0.06 1.8, 0.07 1.4, 0.07 2.4, 0.08 1.9, 0.09 1.5, 0.03 0.4, 0.02 1.2',
  '0.081 0.6, 0.084 1.5, 0.087 0.9, 0.09 1.2, 0.093 1.9, 0.096 0.5, 0.098 1.3, 0.1 1.6, 0.103 2.2, 0.106 0.8, 0.108 1.1, 0.111 1.8, 0.113 0.3, 0.116 1.3, 0.118 2.5, 0.121 0.5, 0.095 0.8, 0.089 0.4, 0.11 2.1, 0.124 1.0, 0.105 2.5, 0.092 2.6',
  '0.31 0.3, 0.32 0.9, 0.33 0.5, 0.34 1.3, 0.35 0.7, 0.36 1.2, 0.37 0.9, 0.38 0.6, 0.39 1.5, 0.4 1.3, 0.41 1.0, 0.42 1.8, 0.43 1.1, 0.44 1.6, 0.45 2.2, 0.46 1.3, 0.48 1.9, 0.5 1.4, 0.52 2.1, 0.54 1.7, 0.57 2.4, 0.4 0.4',
];
const coreHEG1 = [
  '0.61 2.7, 0.63 3.5, 0.65 2.0, 0.67 3.1, 0.69 2.4, 0.71 3.6, 0.73 2.0, 0.75 2.9, 0.77 3.3, 0.79 1.6, 0.81 2.5, 0.83 3.4, 0.85 2.0, 0.87 2.9, 0.89 1.5, 0.9 2.5, 0.92 3.0, 0.94 1.8, 0.96 2.3, 0.97 1.4, 0.99 2.5, 0.93 1.1',
  '0.05 1.6, 0.05 3.0, 0.06 2.2, 0.06 3.6, 0.07 1.4, 0.07 2.6, 0.07 3.9, 0.08 2.4, 0.08 1.0, 0.08 3.0, 0.09 1.8, 0.09 3.4, 0.1 2.5, 0.1 3.7, 0.1 1.2, 0.11 2.0, 0.11 3.0, 0.12 3.5, 0.12 2.2, 0.06 0.8, 0.09 2.2, 0.08 4.4',
  '0.1 1.2, 0.1 3.0, 0.11 2.0, 0.11 3.6, 0.12 1.6, 0.12 2.6, 0.13 2.2, 0.13 3.9, 0.14 3.0, 0.14 1.2, 0.15 2.6, 0.15 3.6, 0.16 1.8, 0.16 4.1, 0.17 2.5, 0.17 3.2, 0.18 3.6, 0.18 2.2, 0.19 2.6, 0.2 3.4, 0.12 0.9, 0.14 3.3',
  '0.08 1.2, 0.09 2.0, 0.09 0.8, 0.1 2.6, 0.1 1.5, 0.11 1.8, 0.11 3.0, 0.12 2.4, 0.12 3.5, 0.12 1.2, 0.13 2.9, 0.13 1.8, 0.14 3.3, 0.14 2.3, 0.15 2.7, 0.15 3.8, 0.16 3.4, 0.16 2.2, 0.17 4.2, 0.17 3.1, 0.18 3.5, 0.11 1.1',
  '0.0 1.6, 0.0 2.8, 0.01 1.2, 0.01 2.3, 0.01 3.4, 0.02 1.8, 0.02 2.9, 0.02 0.9, 0.03 1.5, 0.03 2.5, 0.03 3.6, 0.04 2.1, 0.04 3.2, 0.05 1.7, 0.05 2.8, 0.06 2.4, 0.06 3.6, 0.07 3.1, 0.07 1.9, 0.08 2.6, 0.09 3.5, 0.02 0.6',
  '0.081 1.5, 0.084 3.0, 0.087 1.3, 0.09 2.0, 0.092 2.7, 0.095 1.6, 0.097 2.6, 0.1 3.3, 0.102 1.0, 0.105 1.5, 0.107 2.4, 0.11 3.5, 0.112 2.0, 0.115 2.9, 0.117 3.9, 0.12 1.2, 0.099 4.2, 0.094 3.8, 0.109 3.0, 0.104 1.9, 0.114 0.9, 0.122 2.6',
  '0.32 1.5, 0.33 2.6, 0.34 1.8, 0.35 2.2, 0.36 3.2, 0.37 1.9, 0.38 2.5, 0.39 1.3, 0.4 2.7, 0.41 3.4, 0.42 2.0, 0.43 2.8, 0.44 3.6, 0.45 2.3, 0.46 3.0, 0.48 3.6, 0.5 2.8, 0.52 3.2, 0.54 2.4, 0.56 3.5, 0.58 2.8, 0.35 0.9',
];
const coreKCTD12 = [
  '0.61 2.4, 0.63 3.2, 0.65 1.8, 0.67 2.8, 0.69 3.5, 0.71 2.0, 0.73 2.7, 0.75 1.5, 0.77 3.1, 0.79 2.1, 0.81 1.4, 0.83 2.6, 0.85 1.8, 0.87 2.3, 0.89 1.1, 0.91 2.0, 0.92 1.6, 0.94 1.3, 0.95 2.4, 0.97 0.7, 0.98 1.5, 0.99 0.9',
  '0.05 1.3, 0.05 2.4, 0.06 1.8, 0.06 0.9, 0.07 1.4, 0.07 2.7, 0.07 3.2, 0.08 1.0, 0.08 2.2, 0.08 3.6, 0.09 1.5, 0.09 2.8, 0.1 1.1, 0.1 2.2, 0.1 3.5, 0.11 1.8, 0.11 2.8, 0.12 1.6, 0.12 3.3, 0.06 0.5, 0.09 4.0, 0.08 1.8',
  '0.1 0.4, 0.1 1.4, 0.11 2.0, 0.11 0.7, 0.12 1.6, 0.12 2.8, 0.13 1.0, 0.13 2.3, 0.14 1.8, 0.14 3.2, 0.15 1.3, 0.15 2.5, 0.16 2.2, 0.16 3.5, 0.17 1.7, 0.17 2.8, 0.18 2.2, 0.18 3.4, 0.19 2.7, 0.2 2.5, 0.12 0.9, 0.14 0.3',
  '0.08 0.9, 0.09 1.6, 0.09 0.5, 0.1 1.2, 0.1 2.2, 0.11 0.8, 0.11 1.6, 0.11 2.7, 0.12 1.2, 0.12 2.2, 0.13 1.9, 0.13 0.9, 0.13 2.6, 0.14 1.5, 0.14 3.0, 0.15 2.0, 0.15 3.4, 0.16 2.4, 0.16 1.2, 0.17 2.9, 0.18 3.2, 0.1 0.2',
  '0.0 1.1, 0.0 2.2, 0.01 0.6, 0.01 1.6, 0.01 2.7, 0.02 1.0, 0.02 2.0, 0.02 3.0, 0.03 1.4, 0.03 2.4, 0.04 1.9, 0.04 2.9, 0.04 0.9, 0.05 2.3, 0.05 1.2, 0.06 2.7, 0.06 1.7, 0.07 2.2, 0.07 3.3, 0.08 2.7, 0.09 3.1, 0.03 0.3',
  '0.08 1.3, 0.083 2.0, 0.087 1.0, 0.089 2.2, 0.092 3.2, 0.095 1.4, 0.098 2.4, 0.1 2.9, 0.103 0.4, 0.106 1.6, 0.108 2.9, 0.111 0.7, 0.114 2.2, 0.116 3.5, 0.119 1.2, 0.122 2.6, 0.104 3.8, 0.113 4.2, 0.093 1.8, 0.109 2.0, 0.096 1.0, 0.124 4.0',
  '0.31 0.8, 0.32 1.5, 0.33 1.0, 0.34 1.7, 0.35 1.2, 0.36 2.2, 0.37 1.8, 0.38 1.2, 0.39 2.4, 0.4 2.0, 0.41 1.6, 0.42 2.7, 0.43 2.2, 0.44 3.1, 0.45 2.4, 0.46 1.9, 0.48 2.7, 0.5 3.3, 0.52 2.2, 0.54 2.9, 0.56 3.4, 0.34 0.4',
];
const coreFMNL3 = [
  '0.61 1.3, 0.63 1.8, 0.65 0.9, 0.67 1.4, 0.69 2.0, 0.71 1.0, 0.73 1.7, 0.75 1.3, 0.77 0.8, 0.79 1.7, 0.81 1.1, 0.83 1.5, 0.85 0.7, 0.87 1.7, 0.89 1.0, 0.9 1.3, 0.92 0.7, 0.94 1.4, 0.95 0.9, 0.97 0.5, 0.98 1.2, 0.99 0.6',
  '0.05 0.7, 0.05 1.3, 0.06 0.5, 0.06 1.0, 0.06 1.7, 0.07 0.7, 0.07 1.4, 0.07 2.2, 0.08 0.4, 0.08 1.2, 0.08 1.9, 0.09 0.8, 0.09 1.5, 0.1 1.1, 0.1 1.8, 0.1 0.5, 0.11 1.5, 0.11 2.2, 0.12 1.3, 0.12 1.9, 0.09 2.4, 0.07 2.6',
  '0.1 0.6, 0.1 1.2, 0.11 0.9, 0.11 1.9, 0.12 0.4, 0.12 1.3, 0.13 0.7, 0.13 1.8, 0.14 1.1, 0.14 2.1, 0.15 1.4, 0.15 0.6, 0.16 1.6, 0.16 2.5, 0.17 1.1, 0.17 1.9, 0.18 1.4, 0.18 2.2, 0.19 1.8, 0.2 1.5, 0.12 2.3, 0.14 0.3',
  '0.08 0.6, 0.09 0.9, 0.09 0.3, 0.1 0.6, 0.1 1.3, 0.11 1.0, 0.11 0.4, 0.11 1.7, 0.12 0.7, 0.12 1.4, 0.13 1.0, 0.13 1.8, 0.14 1.3, 0.14 0.6, 0.15 1.1, 0.15 2.0, 0.16 1.5, 0.16 0.8, 0.17 2.2, 0.17 1.2, 0.18 1.8, 0.12 0.2',
  '0.0 0.7, 0.0 1.3, 0.01 0.4, 0.01 0.9, 0.01 1.6, 0.02 0.6, 0.02 1.2, 0.02 1.9, 0.03 0.8, 0.03 1.5, 0.04 1.1, 0.04 1.6, 0.04 0.5, 0.05 1.0, 0.05 1.9, 0.06 1.4, 0.06 0.7, 0.07 1.2, 0.07 2.0, 0.08 1.6, 0.09 1.2, 0.03 2.0',
  '0.081 0.6, 0.084 1.3, 0.087 0.4, 0.09 1.0, 0.093 1.7, 0.096 0.6, 0.099 1.1, 0.101 1.4, 0.104 2.0, 0.106 0.5, 0.109 1.0, 0.111 1.6, 0.114 2.4, 0.117 1.3, 0.12 1.9, 0.123 0.7, 0.094 0.2, 0.088 2.2, 0.108 1.3, 0.118 2.3, 0.103 1.8, 0.115 0.3',
  '0.31 0.5, 0.32 0.8, 0.33 0.4, 0.34 1.0, 0.35 0.6, 0.36 1.2, 0.37 0.8, 0.38 1.4, 0.39 0.7, 0.4 1.2, 0.41 1.0, 0.42 1.7, 0.43 1.3, 0.44 0.8, 0.45 1.6, 0.46 1.1, 0.48 1.8, 0.5 1.4, 0.52 2.1, 0.54 1.6, 0.56 1.9, 0.58 1.3',
];
const coreRCSD1 = [
  '0.61 2.2, 0.63 1.6, 0.65 2.7, 0.67 1.3, 0.69 2.1, 0.71 1.7, 0.73 2.6, 0.75 1.4, 0.77 2.1, 0.79 0.9, 0.81 1.7, 0.83 2.3, 0.85 1.2, 0.87 1.9, 0.89 0.7, 0.9 1.4, 0.92 1.9, 0.94 1.0, 0.95 1.6, 0.97 0.5, 0.98 1.2, 0.99 0.8',
  '0.05 1.0, 0.05 1.8, 0.06 0.6, 0.06 1.4, 0.07 1.0, 0.07 2.0, 0.07 1.4, 0.08 0.5, 0.08 1.6, 0.08 2.5, 0.09 1.1, 0.09 2.0, 0.1 1.7, 0.1 0.9, 0.1 2.8, 0.11 1.4, 0.11 2.3, 0.12 1.9, 0.12 1.0, 0.06 2.6, 0.09 0.4, 0.12 2.9',
  '0.1 0.7, 0.1 1.5, 0.11 0.5, 0.11 1.8, 0.12 1.1, 0.12 2.2, 0.13 0.7, 0.13 1.6, 0.14 1.2, 0.14 2.4, 0.15 1.8, 0.15 2.9, 0.16 1.1, 0.16 2.3, 0.17 1.6, 0.17 2.8, 0.18 2.2, 0.18 3.2, 0.19 1.9, 0.2 2.7, 0.12 0.3, 0.14 0.6',
  '0.08 0.8, 0.09 1.4, 0.09 0.4, 0.1 1.1, 0.1 1.9, 0.11 0.6, 0.11 1.4, 0.11 2.4, 0.12 1.0, 0.12 1.8, 0.13 0.7, 0.13 2.3, 0.14 1.3, 0.14 1.9, 0.15 1.0, 0.15 2.6, 0.16 1.6, 0.16 2.3, 0.17 2.0, 0.17 1.2, 0.18 2.4, 0.12 0.2',
  '0.0 0.8, 0.0 1.6, 0.01 0.4, 0.01 1.2, 0.01 2.0, 0.02 0.7, 0.02 1.4, 0.02 2.4, 0.03 1.0, 0.03 1.9, 0.04 1.3, 0.04 2.3, 0.04 0.6, 0.05 1.7, 0.05 2.6, 0.06 1.4, 0.06 2.3, 0.07 1.9, 0.07 2.9, 0.08 2.4, 0.09 2.0, 0.03 0.3',
  '0.08 0.8, 0.083 1.7, 0.086 1.0, 0.089 1.7, 0.092 0.5, 0.095 1.3, 0.097 2.1, 0.1 0.6, 0.102 1.0, 0.105 1.8, 0.107 2.6, 0.11 0.4, 0.113 1.5, 0.116 2.3, 0.119 0.8, 0.122 3.0, 0.098 2.8, 0.09 2.4, 0.111 3.3, 0.103 1.6, 0.124 1.2, 0.093 0.9',
  '0.31 0.6, 0.32 1.2, 0.33 0.8, 0.34 1.4, 0.35 1.0, 0.36 1.7, 0.37 1.2, 0.38 1.8, 0.39 1.0, 0.4 1.6, 0.41 2.2, 0.42 1.5, 0.43 2.4, 0.44 1.8, 0.45 2.6, 0.46 2.1, 0.48 1.6, 0.5 2.3, 0.52 2.6, 0.54 2.0, 0.56 2.9, 0.58 2.4',
];

// loess fit: "x fit halfwidth-of-ribbon"
const fitPREX1 = [
  '0.04 3.25 0.45, 0.2 3.3 0.2, 0.4 3.15 0.15, 0.6 2.8 0.1, 0.8 2.45 0.1, 1.0 2.1 0.22',
  '0.04 2.7 0.4, 0.06 2.1 0.25, 0.1 2.9 0.12, 0.2 3.6 0.2, 0.3 4.05 0.35, 0.45 4.2 0.7',
  '0.08 1.85 0.4, 0.15 2.6 0.15, 0.2 3.2 0.15, 0.3 3.35 0.25, 0.5 3.7 0.4, 0.73 4.65 0.9',
  '0.0 1.9 0.7, 0.05 1.85 0.35, 0.1 2.3 0.12, 0.15 3.2 0.12, 0.2 3.7 0.15, 0.3 4.1 0.35, 0.4 4.2 0.6',
  '0.0 2.0 0.2, 0.05 2.7 0.12, 0.1 3.3 0.12, 0.2 3.9 0.25, 0.3 4.05 0.4, 0.35 4.0 0.55',
  '0.056 2.3 0.6, 0.07 2.05 0.35, 0.082 2.03 0.15, 0.093 2.3 0.12, 0.104 2.9 0.12, 0.122 3.5 0.12, 0.15 3.8 0.15, 0.2 4.2 0.25, 0.266 4.97 0.6',
  '0.32 1.56 0.3, 0.4 2.4 0.15, 0.515 3.2 0.12, 0.7 3.8 0.15, 0.84 4.09 0.2, 1.15 4.5 0.45',
];
const fitRASSF2 = [
  '0.03 2.65 0.4, 0.25 2.2 0.15, 0.5 1.8 0.1, 0.75 1.3 0.08, 1.0 0.85 0.18',
  '0.04 2.5 0.8, 0.05 1.0 0.3, 0.07 1.3 0.15, 0.1 1.9 0.12, 0.2 2.4 0.15, 0.3 2.75 0.3, 0.45 2.85 0.55',
  '0.08 0.6 0.25, 0.15 1.3 0.12, 0.2 1.9 0.12, 0.3 2.05 0.2, 0.5 2.5 0.3, 0.73 3.15 0.5',
  '0.0 0.85 0.5, 0.05 0.8 0.25, 0.1 1.1 0.1, 0.15 1.7 0.1, 0.2 2.2 0.15, 0.3 3.2 0.3, 0.4 4.3 0.7',
  '0.0 0.9 0.15, 0.05 1.4 0.1, 0.1 1.9 0.1, 0.2 2.6 0.2, 0.25 2.7 0.3, 0.3 2.65 0.35, 0.35 2.5 0.5',
  '0.05 1.3 0.4, 0.07 0.85 0.2, 0.09 1.0 0.1, 0.11 1.6 0.1, 0.15 2.1 0.15, 0.2 2.7 0.2, 0.27 4.3 0.5',
  '0.3 0.2 0.2, 0.4 0.9 0.1, 0.5 1.5 0.1, 0.7 2.3 0.12, 0.9 2.8 0.2, 1.15 3.2 0.35',
];
const fitHEG1 = [
  '0.05 3.1 0.35, 0.15 3.2 0.2, 0.3 3.3 0.15, 0.5 3.0 0.12, 0.7 2.6 0.1, 0.85 2.4 0.1, 1.0 1.9 0.2',
  '0.04 2.3 0.35, 0.06 2.2 0.2, 0.1 2.8 0.12, 0.15 3.1 0.15, 0.25 3.3 0.25, 0.35 3.5 0.4, 0.45 3.6 0.8',
  '0.08 1.5 0.35, 0.12 2.3 0.15, 0.17 3.1 0.15, 0.25 3.2 0.25, 0.4 3.15 0.35, 0.55 3.3 0.5, 0.73 4.5 1.1',
  '0.0 0.7 1.0, 0.05 1.4 0.5, 0.1 2.3 0.15, 0.15 3.1 0.15, 0.2 3.7 0.2, 0.3 4.15 0.35, 0.35 4.05 0.45, 0.4 3.7 0.6',
  '0.0 1.9 0.2, 0.05 2.5 0.12, 0.1 3.1 0.12, 0.15 3.6 0.2, 0.2 4.0 0.25, 0.25 4.1 0.3, 0.3 4.05 0.4, 0.35 3.8 0.5',
  '0.05 2.0 0.25, 0.07 1.8 0.25, 0.09 2.3 0.12, 0.11 3.0 0.12, 0.13 3.6 0.15, 0.2 4.0 0.25, 0.27 4.6 0.45',
  '0.3 1.15 0.3, 0.4 2.2 0.15, 0.5 2.9 0.12, 0.6 3.3 0.15, 0.75 3.5 0.2, 1.0 3.6 0.3, 1.15 4.0 0.5',
];
const fitKCTD12 = [
  '0.05 3.1 0.4, 0.2 3.0 0.2, 0.4 2.85 0.15, 0.6 2.5 0.1, 0.8 1.95 0.1, 1.0 1.25 0.2',
  '0.04 2.9 0.6, 0.055 1.6 0.3, 0.08 2.2 0.15, 0.12 2.8 0.12, 0.2 3.3 0.2, 0.3 3.7 0.3, 0.38 3.75 0.45, 0.45 3.55 0.7',
  '0.08 0.9 0.35, 0.12 1.8 0.15, 0.18 2.8 0.15, 0.25 3.1 0.2, 0.4 3.3 0.3, 0.55 3.7 0.5, 0.73 4.8 0.9',
  '0.0 1.4 0.8, 0.05 1.35 0.35, 0.1 1.6 0.12, 0.15 2.3 0.12, 0.2 3.0 0.15, 0.3 4.2 0.35, 0.4 5.0 0.6',
  '0.0 1.4 0.2, 0.05 2.1 0.12, 0.1 2.8 0.12, 0.15 3.5 0.2, 0.2 3.9 0.25, 0.25 4.0 0.3, 0.35 4.0 0.5',
  '0.05 2.1 0.6, 0.07 1.3 0.3, 0.09 1.8 0.12, 0.11 2.8 0.12, 0.13 3.3 0.15, 0.18 3.7 0.2, 0.27 4.9 0.45',
  '0.3 0.3 0.3, 0.4 1.7 0.15, 0.5 2.6 0.12, 0.6 3.1 0.15, 0.75 3.6 0.2, 0.9 3.75 0.25, 1.15 3.8 0.4',
];
const fitFMNL3 = [
  '0.04 1.65 0.25, 0.2 1.72 0.12, 0.4 1.6 0.1, 0.6 1.45 0.07, 0.8 1.15 0.07, 1.0 0.75 0.15',
  '0.04 1.5 0.4, 0.055 0.95 0.2, 0.08 1.3 0.1, 0.12 1.6 0.08, 0.2 1.95 0.12, 0.3 2.25 0.2, 0.4 2.35 0.35, 0.45 2.3 0.5',
  '0.08 0.6 0.25, 0.12 1.1 0.1, 0.17 1.7 0.1, 0.25 1.9 0.15, 0.4 2.05 0.2, 0.55 2.4 0.35, 0.73 3.3 0.75',
  '0.0 0.6 0.7, 0.05 0.6 0.25, 0.1 0.85 0.08, 0.15 1.4 0.08, 0.2 2.0 0.1, 0.3 2.6 0.2, 0.35 2.75 0.25, 0.4 2.7 0.4',
  '0.0 0.7 0.12, 0.05 1.15 0.08, 0.1 1.5 0.08, 0.15 1.85 0.12, 0.2 2.1 0.15, 0.25 2.3 0.2, 0.3 2.3 0.25, 0.35 2.2 0.35',
  '0.05 1.9 0.4, 0.07 1.0 0.2, 0.09 1.2 0.08, 0.11 1.75 0.08, 0.14 2.0 0.1, 0.2 2.3 0.15, 0.27 3.2 0.35',
  '0.3 0.3 0.2, 0.4 1.1 0.1, 0.5 1.55 0.08, 0.6 1.85 0.1, 0.75 2.1 0.12, 0.9 2.2 0.15, 1.15 2.25 0.3',
];
const fitRCSD1 = [
  '0.04 2.6 0.4, 0.2 2.5 0.2, 0.4 2.25 0.12, 0.6 1.95 0.1, 0.8 1.55 0.1, 1.0 1.05 0.2',
  '0.04 2.1 0.5, 0.055 1.2 0.25, 0.08 1.7 0.12, 0.12 2.2 0.12, 0.2 3.0 0.15, 0.3 3.5 0.25, 0.38 3.65 0.4, 0.45 3.65 0.6',
  '0.08 1.0 0.3, 0.12 1.8 0.12, 0.18 2.5 0.12, 0.25 2.95 0.15, 0.4 3.3 0.2, 0.55 3.5 0.3, 0.73 3.8 0.55',
  '0.0 1.35 0.7, 0.05 1.15 0.3, 0.1 1.4 0.1, 0.15 2.0 0.1, 0.2 2.6 0.15, 0.3 3.4 0.25, 0.4 3.9 0.4',
  '0.0 1.0 0.15, 0.05 1.7 0.1, 0.1 2.3 0.1, 0.15 2.8 0.15, 0.2 3.1 0.2, 0.3 3.4 0.3, 0.35 3.5 0.4',
  '0.05 2.0 0.5, 0.07 1.2 0.25, 0.085 1.1 0.12, 0.1 1.6 0.1, 0.13 2.3 0.12, 0.2 3.2 0.2, 0.27 4.6 0.5',
  '0.3 0.3 0.2, 0.4 1.3 0.1, 0.5 2.0 0.1, 0.6 2.5 0.1, 0.75 3.0 0.12, 0.9 3.4 0.15, 1.15 3.65 0.3',
];

const points = [ptsPREX1, ptsRASSF2, ptsHEG1, ptsKCTD12, ptsFMNL3, ptsRCSD1];
const cores = [corePREX1, coreRASSF2, coreHEG1, coreKCTD12, coreFMNL3, coreRCSD1];
const fits = [fitPREX1, fitRASSF2, fitHEG1, fitKCTD12, fitFMNL3, fitRCSD1];
const cors = [corPREX1, corRASSF2, corHEG1, corKCTD12, corFMNL3, corRCSD1];
const pvals = [pPREX1, pRASSF2, pHEG1, pKCTD12, pFMNL3, pRCSD1];

const parse = (s: string) => s.split(',').map(p => p.trim().split(/\s+/).map(Number));
const minus = (s: string) => s.replace(/-/g, '\u2212');

// layout
const panelX0 = 32;
const panelW = 104;
const panelStep = 108.33;
const stripH = 10;
const plotH = 99;
const FONT = "'Liberation Sans', Arial, Helvetica, sans-serif";

function minorBreaks(ticks: number[], domain: number[]) {
  const step = ticks.length > 1 ? ticks[1] - ticks[0] : 1;
  const out: number[] = [];
  for (let v = ticks[0] - step / 2; v >= domain[0]; v -= step) out.push(v);
  for (let v = ticks[0] + step / 2; v <= domain[1]; v += step) out.push(v);
  return out;
}

function Panel({ r, c }: { r: number; c: number }) {
  const left = panelX0 + c * panelStep;
  const top = rowTops[r] + stripH;
  const x = d3.scaleLinear().domain(xDomains[c]).range([left, left + panelW]);
  const y = d3.scaleLinear().domain(yDomains[r]).range([top + plotH, top]);
  const pts = parse(points[r][c]).concat(parse(cores[r][c]));
  const fit = parse(fits[r][c]);
  const line = d3.line<number[]>().x(d => x(d[0])).y(d => y(d[1])).curve(d3.curveMonotoneX);
  const band = d3
    .area<number[]>()
    .x(d => x(d[0]))
    .y0(d => y(d[1] - d[2]))
    .y1(d => y(d[1] + d[2]))
    .curve(d3.curveMonotoneX);
  const clipId = `clip-${r}-${c}`;
  const xMinor = minorBreaks(xTicks[c], xDomains[c]);
  const yMinor = minorBreaks(yTicks[r], yDomains[r]);
  const label = c === 0 ? 'cor' : 'partial.cor';
  return (
    <g>
      <clipPath id={clipId}>
        <rect x={left} y={top} width={panelW} height={plotH} />
      </clipPath>
      <rect x={left} y={top} width={panelW} height={plotH} fill="#fff" />
      <g stroke="#ebebeb">
        {xMinor.map((v, i) => (
          <line key={'xm' + i} x1={x(v)} x2={x(v)} y1={top} y2={top + plotH} strokeWidth={0.3} />
        ))}
        {yMinor.map((v, i) => (
          <line key={'ym' + i} y1={y(v)} y2={y(v)} x1={left} x2={left + panelW} strokeWidth={0.3} />
        ))}
        {xTicks[c].map((v, i) => (
          <line key={'xM' + i} x1={x(v)} x2={x(v)} y1={top} y2={top + plotH} strokeWidth={0.6} />
        ))}
        {yTicks[r].map((v, i) => (
          <line key={'yM' + i} y1={y(v)} y2={y(v)} x1={left} x2={left + panelW} strokeWidth={0.6} />
        ))}
      </g>
      <g clipPath={`url(#${clipId})`}>
        {pts.map((d, i) => (
          <circle key={i} cx={x(d[0])} cy={y(d[1])} r={1.7} fill="#1a1a1a" />
        ))}
        <path d={band(fit) || ''} fill="#999999" fillOpacity={0.4} />
        <path d={line(fit) || ''} fill="none" stroke="#3366ff" strokeWidth={1.1} />
      </g>
      <rect x={left} y={top} width={panelW} height={plotH} fill="none" stroke="#333" strokeWidth={0.5} />
      {/* strip */}
      <rect x={left} y={rowTops[r]} width={panelW} height={stripH} fill="#d9d9d9" stroke="#333" strokeWidth={0.5} />
      <text x={left + panelW / 2} y={rowTops[r] + 7.2} textAnchor="middle" fontSize={5.6} fill="#1a1a1a">
        {cells[c]}
      </text>
      {/* stats */}
      <g fill="#ff0000" fontSize={6.4} textAnchor="end">
        <text x={left + panelW - 1.5} y={top + 7.4}>
          {label} = {minus(cors[r][c])}
        </text>
        <text x={left + panelW - 1.5} y={top + 14.6}>
          p = {minus(pvals[r][c])}
        </text>
      </g>
      {/* x axis */}
      {xTicks[c].map((v, i) => (
        <g key={'xt' + i}>
          <line x1={x(v)} x2={x(v)} y1={top + plotH} y2={top + plotH + 2} stroke="#333" strokeWidth={0.5} />
          <text x={x(v)} y={top + plotH + 8.2} textAnchor="middle" fontSize={5.3} fill="#4d4d4d">
            {v.toFixed(xDigits[c])}
          </text>
        </g>
      ))}
    </g>
  );
}

function Row({ r }: { r: number }) {
  const top = rowTops[r] + stripH;
  const y = d3.scaleLinear().domain(yDomains[r]).range([top + plotH, top]);
  const cy = top + plotH / 2;
  const right = panelX0 + 6 * panelStep + panelW;
  return (
    <g>
      <text x={12} y={rowTops[r] - 7} fontSize={22} fill="#000">
        {letters[r]}
      </text>
      <text transform={`translate(8.5,${cy}) rotate(-90)`} textAnchor="middle" fontSize={7} fill="#000" dy="0.35em">
        {genes[r]} Expression Level (log2 TPM)
      </text>
      <rect x={22} y={top} width={panelX0 - 22} height={plotH} fill="#d9d9d9" stroke="#333" strokeWidth={0.5} />
      <text transform={`translate(27,${cy}) rotate(-90)`} textAnchor="middle" fontSize={5.6} fill="#1a1a1a" dy="0.35em">
        LIHC
      </text>
      {yTicks[r].map((v, i) => (
        <g key={i}>
          <line x1={20} x2={22} y1={y(v)} y2={y(v)} stroke="#333" strokeWidth={0.5} />
          <text x={19} y={y(v)} dy="0.35em" textAnchor="end" fontSize={5.3} fill="#4d4d4d">
            {v}
          </text>
        </g>
      ))}
      {cells.map((_, c) => (
        <Panel key={c} r={r} c={c} />
      ))}
      <text x={(22 + right) / 2} y={top + plotH + 17} textAnchor="middle" fontSize={6.3} fill="#000">
        Infiltration Level
      </text>
    </g>
  );
}

export default function App() {
  return (
    <svg
      width={793}
      height={1048}
      viewBox="0 0 793 1048"
      style={{ position: 'absolute', left: 0, top: 0, background: '#fff' }}
      fontFamily={FONT}
    >
      <rect width={793} height={1048} fill="#fff" />
      {genes.map((_, r) => (
        <Row key={r} r={r} />
      ))}
    </svg>
  );
}
